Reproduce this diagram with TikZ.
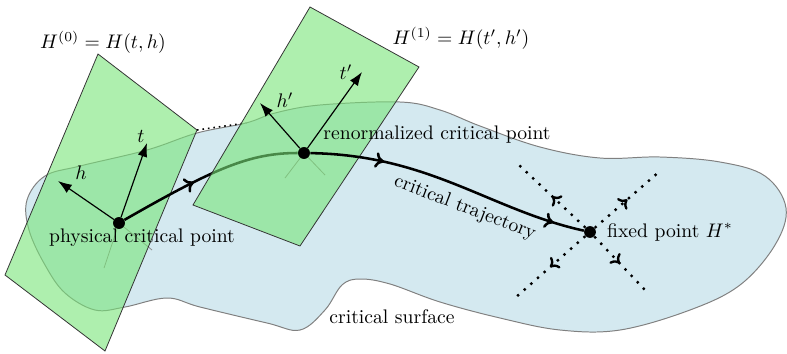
\documentclass[tikz,border=0pt]{standalone}
\usepackage{amsmath,amssymb}
\usetikzlibrary{arrows.meta,decorations.markings}
\definecolor{surfblue}{RGB}{212,233,240}
\definecolor{planegreen}{RGB}{120,228,120}

\begin{document}
\begin{tikzpicture}[x=0.0179cm,y=-0.0179cm,
  plane/.style={draw=black!80,line width=0.4pt,fill=planegreen,fill opacity=0.6},
  axis/.style={-{Latex[length=7pt,width=5pt]},line width=0.6pt},
  stub/.style={black!45,line width=0.4pt},
  crit/.style={circle,fill,inner sep=0pt,minimum size=6pt},
  traj/.style={line width=1.3pt,postaction={decorate}},
  outflow/.style={line width=1.2pt,dash pattern=on 1.2pt off 3.3pt,postaction={decorate},
    decoration={markings,mark=at position 0.5 with {\arrow[solid]{To[length=4pt,width=7.5pt]}}}}]
\useasboundingbox (0,0) rectangle (787,353);

\draw[black!50,line width=0.5pt,fill=surfblue] plot[smooth cycle,tension=0.6] coordinates {
  (27,200) (45,176) (80,166) (147,150) (197,133) (246,123) (275,113) (320,105)
  (400,102) (440,110) (480,126) (540,147) (600,158) (660,157) (720,162) (765,176)
  (786,208) (775,245) (740,285) (690,310) (620,330) (560,330) (500,318) (440,302)
  (390,284) (360,279) (342,285) (325,310) (300,330) (267,323) (200,307) (167,298)
  (125,307) (95,310) (65,293) (45,265) (29,230)};

\node[crit] (phys) at (119,223) {};
\coordinate (physA) at (104,268);
\coordinate (physB) at (152,250);
\draw[stub] (phys)--(physA);
\draw[stub] (phys)--(physB);

\coordinate (pzT) at (98,54);
\coordinate (pzR) at (197,130);
\coordinate (pzB) at (105,351);
\coordinate (pzL) at (5,275);
\draw[plane] (pzT)--(pzR)--(pzB)--(pzL)--cycle;

\coordinate (gap) at (246,123);
\draw[dotted,line width=0.8pt] (pzR)--(gap);

\coordinate (tTip) at (147,143);
\coordinate (hTip) at (58,181);
\draw[axis] (phys)--(tTip);
\draw[axis] (phys)--(hTip);
\node (tlab) at (141,136) {$t$};
\node (hlab) at (81,173) {$h$};
\node[crit] at (phys) {};

\node[crit] (renorm) at (304,153) {};
\draw[traj,decoration={markings,mark=at position 0.42 with {\arrow{To[length=4.5pt,width=8pt]}}}]
  (phys) .. controls (215,168) and (250,153) .. (renorm);
\coordinate (renA) at (285,178);
\coordinate (renB) at (325,175);
\draw[stub] (renorm)--(renA);
\draw[stub] (renorm)--(renB);

\coordinate (poT) at (310,7);
\coordinate (poR) at (419,67);
\coordinate (poB) at (300,246);
\coordinate (poL) at (193,205);
\draw[plane] (poT)--(poR)--(poB)--(poL)--cycle;

\coordinate (tpTip) at (362,72);
\coordinate (hpTip) at (260,103);
\draw[axis] (renorm)--(tpTip);
\draw[axis] (renorm)--(hpTip);
\node (tplab) at (346,72) {$t'$};
\node (hplab) at (285,100) {$h'$};
\node[crit] at (renorm) {};

\node[crit] (fixed) at (590,232) {};
\draw[traj,decoration={markings,
    mark=at position 0.26 with {\arrow{To[length=4.5pt,width=8pt]}},
    mark=at position 0.89 with {\arrow{To[length=4.5pt,width=8pt]}}}]
  (renorm) .. controls (430,155) and (490,210) .. (fixed);

\coordinate (outUL) at (519,165);
\coordinate (outUR) at (660,171);
\coordinate (outDL) at (515,298);
\coordinate (outDR) at (645,290);
\draw[outflow] (fixed)--(outUL);
\draw[outflow] (fixed)--(outUR);
\draw[outflow] (fixed)--(outDL);
\draw[outflow] (fixed)--(outDR);

\node (Hzero) at (103,42) {$H^{(0)} = H(t,h)$};
\node (Hone) at (461,38) {$H^{(1)} = H(t',h')$};
\node (physlab) at (142,238) {physical critical point};
\node (renlab) at (437,135) {renormalized critical point};
\node[rotate=-21] (trajlab) at (465,208) {critical trajectory};
\node (fixlab) at (670,232) {fixed point $H^*$};
\node (surflab) at (392,317) {critical surface};
\end{tikzpicture}
\end{document}
